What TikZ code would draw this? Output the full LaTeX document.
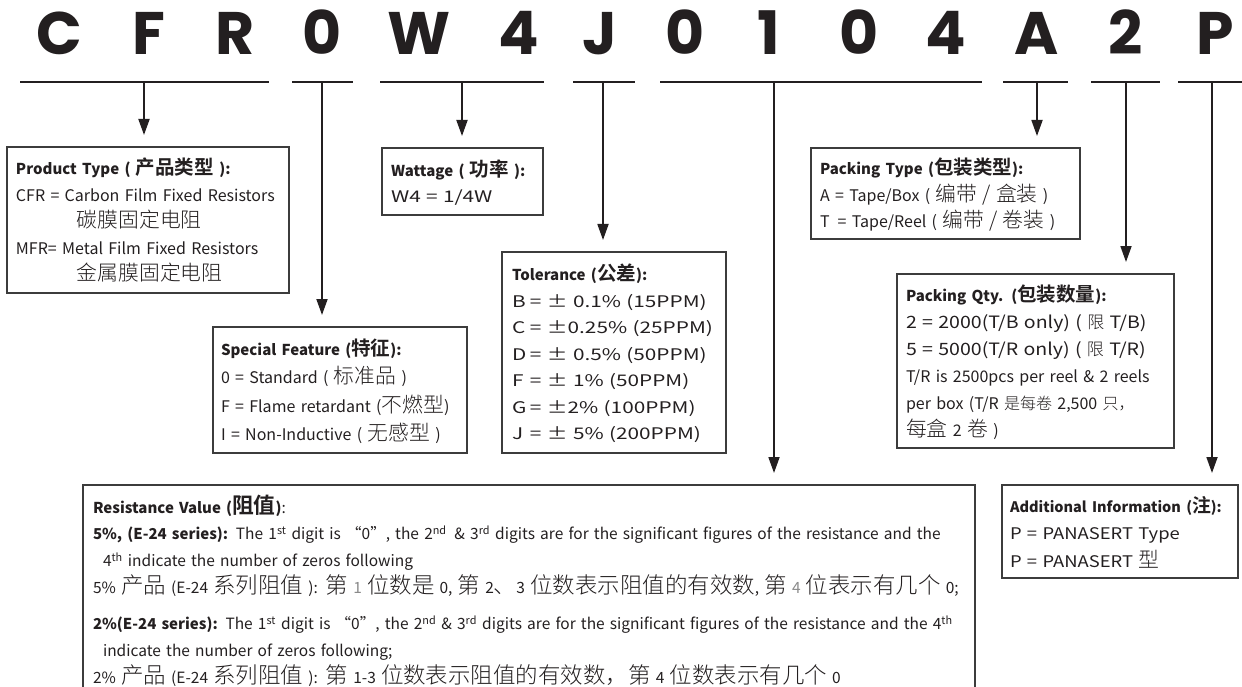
\documentclass[tikz,border=0pt]{standalone}
\usepackage{fontspec}
\setmainfont{Noto Sans CJK SC}
\IfFontExistsTF{Noto Sans CJK SC Light}
  {\def\cjkname{Noto Sans CJK SC Light}}
  {\def\cjkname{Noto Sans CJK SC}}
\newfontfamily\cjkfont{\cjkname}[Scale=1.3, BoldFont=Noto Sans CJK SC Bold]
\newfontfamily\cjksmall{\cjkname}[Scale=1.0, BoldFont=Noto Sans CJK SC Bold]
\newfontfamily\cjklarge{\cjkname}[Scale=1.45, BoldFont=Noto Sans CJK SC Bold]
\newfontfamily\widefont{Noto Sans CJK SC}[FakeStretch=1.3]
\newfontfamily\midfont{Noto Sans CJK SC}[FakeStretch=1.15]
\newfontfamily\codefont{Poppins}
\newcommand\zh[1]{{\cjkfont #1}}
\newcommand\zhs[1]{{\cjksmall #1}}
\newcommand\zhl[1]{{\cjklarge #1}}
\newcommand\hd[1]{{\rmfamily\bfseries\fontsize{15}{26}\selectfont #1}}
\newcommand\rows[1]{\raisebox{-2.5pt}[\height][\depth]{\begin{tabular}{@{}l@{}}#1\end{tabular}}}
\usetikzlibrary{arrows.meta,positioning}
\definecolor{CodeInk}{HTML}{231F20}
\definecolor{BoxLine}{HTML}{3C3C3C}
\definecolor{DigitGray}{HTML}{8A8A8A}
\tikzset{
  every node/.style={text=CodeInk},
  letter/.style={font=\codefont\bfseries\fontsize{60}{60}\selectfont, anchor=base, inner sep=0pt},
  bar/.style={draw=CodeInk, line width=2.4pt},
  infobox/.style={draw=BoxLine, line width=1.4pt, anchor=north west, outer sep=0pt, align=left, inner xsep=9pt, inner ysep=0pt,
    font=\fontsize{16}{26.5}\selectfont},
  widebox/.style={infobox, font=\widefont\fontsize{16}{26.5}\selectfont},
  pointer/.style={-{Triangle[length=16pt,width=11pt]}, draw=CodeInk, line width=1.8pt, shorten >=12pt},
}

\begin{document}
\begin{tikzpicture}[x=1pt,y=-1pt]
  \useasboundingbox (0,0) rectangle (1242,687);
  % part number
  \foreach \ch/\cx [count=\i] in {C/59,F/149,R/235,0/322,W/419,4/519,J/600,0/685,1/769,0/859,4/946,A/1037,2/1126,P/1215}
    \node[letter] (ch\i) at (\cx,55) {\ch};
  \foreach \xa/\xb in {20/269,292/353,380/544,573/635,660/982,1003/1068,1091/1160,1178/1242}
    \draw[bar] (\xa,82) -- (\xb,82);
  \coordinate (uCFR) at (144,82);
  \coordinate (uSpec) at (322,82);
  \coordinate (uWatt) at (462,82);
  \coordinate (uTol) at (603,82);
  \coordinate (uRes) at (774,82);
  \coordinate (uPack) at (1037,82);
  \coordinate (uQty) at (1126,82);
  \coordinate (uAdd) at (1212,82);
  % boxes
  \node[infobox, text width=264pt, minimum height=146pt] (ptype) at (7,147)
    {\rows{\hd{Product Type ( \zh{产品类型} ):}\\
     CFR = Carbon Film Fixed Resistors\\
     \hspace*{61pt}\zh{碳膜固定电阻}\\
     MFR= Metal Film Fixed Resistors\\
     \hspace*{61pt}\zh{金属膜固定电阻}}};
  \node[widebox, text width=143pt, minimum height=67pt] (watt) at (382,148)
    {\rows{\hd{Wattage ( \zh{功率} ):}\\
     W4 = 1/4W}};
  \node[infobox, text width=238pt, minimum height=126pt, inner xsep=8pt, font=\fontsize{16}{28.5}\selectfont] (feature) at (213,327)
    {\rows{\hd{Special Feature (\zh{特征}):}\\
     0 = Standard ( \zh{标准品} )\\
     F = Flame retardant (\zh{不燃型})\\
     I = Non-Inductive ( \zh{无感型} )}};
  \node[widebox, text width=204pt, minimum height=201pt, inner xsep=10pt] (toler) at (502,252)
    {\rows{\hd{Tolerance (\zh{公差}):}\\
     \makebox[18pt][l]{B}= ± 0.1\% (15PPM)\\
     \makebox[18pt][l]{C}= ±0.25\% (25PPM)\\
     \makebox[18pt][l]{D}= ± 0.5\% (50PPM)\\
     \makebox[18pt][l]{F}= ± 1\% (50PPM)\\
     \makebox[18pt][l]{G}= ±2\% (100PPM)\\
     \makebox[18pt][l]{J}= ± 5\% (200PPM)}};
  \node[infobox, text width=251pt, minimum height=91pt] (packtype) at (811,148)
    {\rows{\hd{Packing Type (\zh{包装类型}):}\\
     A = Tape/Box ( \zh{编带 / 盒装} )\\
     T\enspace= Tape/Reel ( \zh{编带 / 卷装} )}};
  \node[infobox, text width=259pt, minimum height=174pt, font=\fontsize{16}{27}\selectfont] (packqty) at (897,274)
    {\rows{\hd{Packing Qty. (\zh{包装数量}):}\\
     {\midfont\fontsize{17}{27}\selectfont 2 = 2000(T/B only) ( \zhs{限} T/B)}\\
     {\midfont\fontsize{17}{27}\selectfont 5 = 5000(T/R only) ( \zhs{限} T/R)}\\
     T/R is 2500pcs per reel \& 2 reels\\
     per box (T/R \zhs{是每卷} 2,500 \zhs{只，}\\
     \zh{每盒} 2 \zh{卷} )}};
  \node[infobox, text width=220pt, minimum height=93pt, inner xsep=8pt, font=\midfont\fontsize{16}{27.5}\selectfont] (addinfo) at (1002,485)
    {\rows{{\rmfamily\bfseries\fontsize{14.5}{26}\selectfont Additional Information (\zh{注}):}\\
     P = PANASERT Type\\
     P = PANASERT \zh{型}}};
  \node[infobox, text width=872pt, minimum height=211pt, inner xsep=10pt, font=\fontsize{15.5}{26.5}\selectfont] (resval) at (83,485)
    {\rows{\hd{Resistance Value (\zhl{阻值})}:\\
     \hd{5\%, (E-24 series):}\enspace The 1\textsuperscript{st} digit is “0”, the 2\textsuperscript{nd}\enspace \& 3\textsuperscript{rd} digits are for the significant figures of the resistance and the\\
     \hspace*{10pt}4\textsuperscript{th} indicate the number of zeros following\\
     5\% \zhl{产品} (E-24 \zhl{系列阻值} ): \zhl{第} \textcolor{DigitGray}{1} \zhl{位数是} 0, \zhl{第} 2\zhl{、}3 \zhl{位数表示阻值的有效数}, \zhl{第} \textcolor{DigitGray}{4} \zhl{位表示有几个} 0;\\[10pt]
     \hd{2\%(E-24 series):} The 1\textsuperscript{st} digit is “0”, the 2\textsuperscript{nd} \& 3\textsuperscript{rd} digits are for the significant figures of the resistance and the 4\textsuperscript{th}\\
     \hspace*{10pt}indicate the number of zeros following;\\
     2\% \zhl{产品} (E-24 \zhl{系列阻值} ):\enspace \zhl{第} 1-3 \zhl{位数表示阻值的有效数，第} 4 \zhl{位数表示有几个} 0}};
  % pointers
  \draw[pointer] (uCFR) -- (uCFR |- ptype.north);
  \draw[pointer] (uSpec) -- (uSpec |- feature.north);
  \draw[pointer] (uWatt) -- (uWatt |- watt.north);
  \draw[pointer] (uTol) -- (uTol |- toler.north);
  \draw[pointer] (uRes) -- (uRes |- resval.north);
  \draw[pointer] (uPack) -- (uPack |- packtype.north);
  \draw[pointer] (uQty) -- (uQty |- packqty.north);
  \draw[pointer] (uAdd) -- (uAdd |- addinfo.north);
\end{tikzpicture}
\end{document}
